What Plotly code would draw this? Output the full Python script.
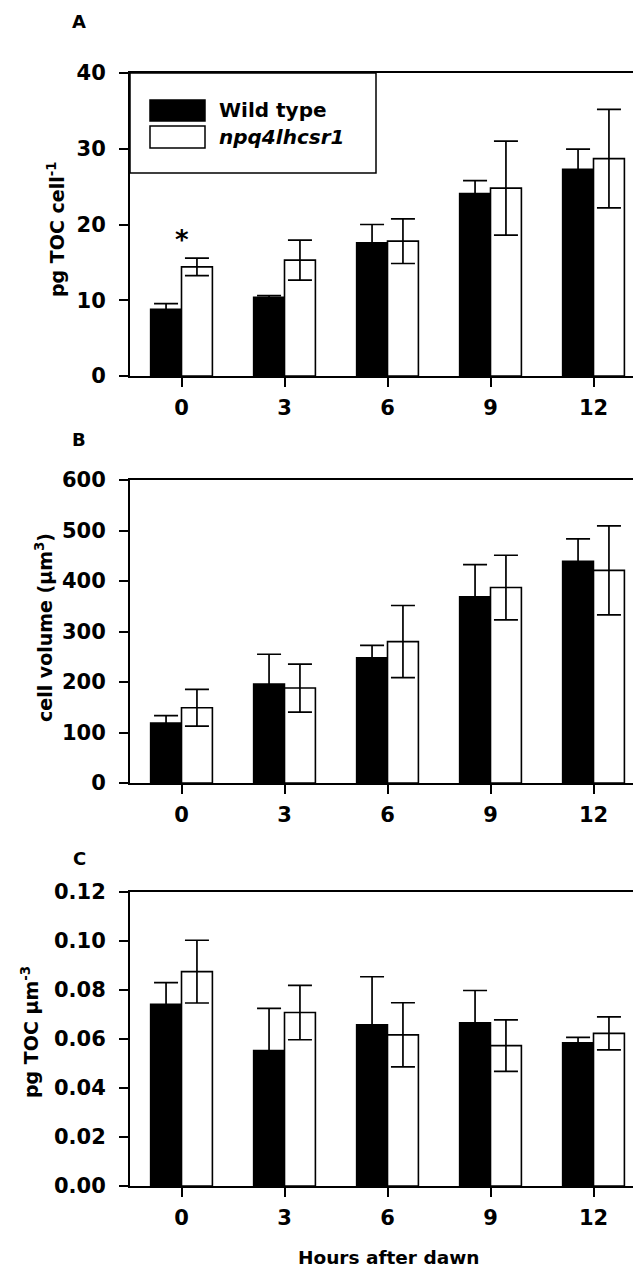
import plotly.graph_objects as go

hours = ["0", "3", "6", "9", "12"]

# Panel A: pg TOC cell^-1
toc_wt = [8.8, 10.4, 17.6, 24.1, 27.3]
toc_wt_err = [0.75, 0.2, 2.4, 1.7, 2.65]
toc_mut = [14.4, 15.3, 17.8, 24.8, 28.7]
toc_mut_err = [1.15, 2.65, 2.95, 6.2, 6.5]

# Panel B: cell volume (µm^3)
vol_wt = [119, 196, 248, 369, 439]
vol_wt_err = [14.5, 59, 24.5, 63.5, 44.5]
vol_mut = [149, 188, 280, 387, 421]
vol_mut_err = [36.5, 47.5, 71.5, 64, 88]

# Panel C: pg TOC µm^-3
den_wt = [0.0742, 0.0553, 0.0658, 0.0666, 0.0585]
den_wt_err = [0.0088, 0.0172, 0.0196, 0.0132, 0.0022]
den_mut = [0.0875, 0.0708, 0.0617, 0.0573, 0.0623]
den_mut_err = [0.0128, 0.0111, 0.0131, 0.0105, 0.0067]

series_names = ["Wild type", "npq4lhcsr1"]

W, H = 641, 1267
FONT = "DejaVu Sans"

def py(px):
    return 1 - px / H

def px_x(px):
    return px / W

fig = go.Figure()

panels = [
    (toc_wt, toc_wt_err, toc_mut, toc_mut_err, "x", "y"),
    (vol_wt, vol_wt_err, vol_mut, vol_mut_err, "x2", "y2"),
    (den_wt, den_wt_err, den_mut, den_mut_err, "x3", "y3"),
]

for wt, wte, mu, mue, xa, ya in panels:
    fig.add_trace(go.Bar(
        x=hours, y=wt, name=series_names[0], xaxis=xa, yaxis=ya,
        marker=dict(color="black", line=dict(color="black", width=1.5)),
        error_y=dict(type="data", array=wte, visible=True, color="black",
                     thickness=1.7, width=12),
        showlegend=False,
    ))
    fig.add_trace(go.Bar(
        x=hours, y=mu, name=series_names[1], xaxis=xa, yaxis=ya,
        marker=dict(color="white", line=dict(color="black", width=1.6)),
        error_y=dict(type="data", array=mue, visible=True, color="black",
                     thickness=1.7, width=12),
        showlegend=False,
    ))

xdom = [px_x(122), px_x(637)]
doms = [(65, 368), (472, 775), (884, 1178)]

axis_common = dict(
    showline=True, linewidth=2, linecolor="black", mirror=True,
    ticks="outside", ticklen=9, tickwidth=2, tickcolor="black",
    showgrid=False, zeroline=False,
    tickfont=dict(family=FONT, size=21, color="black", weight="bold"),
)

yranges = [[0, 40], [0, 600], [0, 0.12]]
ydticks = [10, 100, 0.02]
yfmt = ["d", "d", ".2f"]

layout = dict(
    width=W, height=H,
    margin=dict(l=0, r=0, t=0, b=0),
    paper_bgcolor="white", plot_bgcolor="white",
    barmode="group", bargap=0.4, bargroupgap=0.0,
    showlegend=False,
)
for i in range(3):
    sx = "" if i == 0 else str(i + 1)
    top, bot = doms[i]
    layout["xaxis" + sx] = dict(
        axis_common, domain=xdom, anchor="y" + sx, type="category",
        range=[-0.5, 4.5], ticklabelstandoff=3, automargin=False,
    )
    layout["yaxis" + sx] = dict(
        axis_common, domain=[py(bot), py(top)], anchor="x" + sx,
        range=yranges[i], dtick=ydticks[i], tick0=0, tickformat=yfmt[i],
        ticklabelstandoff=9, automargin=False,
    )
fig.update_layout(**layout)

bold = dict(family=FONT, color="black", weight="bold")
ann = []
# panel letters
for letter, ypix in [("A", 14), ("B", 432), ("C", 850)]:
    ann.append(dict(text=letter, x=px_x(71), y=py(ypix), xref="paper", yref="paper",
                    showarrow=False, xanchor="center", yanchor="middle",
                    font=dict(bold, size=18)))
# y axis titles
ytitles = [("pg TOC cell<sup>-1</sup>", 48, 222),
           ("cell volume (µm<sup>3</sup>)", 36, 620),
           ("pg TOC µm<sup>-3</sup>", 22, 1024)]
for t, xp, ypix in ytitles:
    ann.append(dict(text=t, x=px_x(xp), y=py(ypix), xref="paper", yref="paper",
                    showarrow=False, textangle=-90, xanchor="center", yanchor="middle",
                    font=dict(bold, size=19)))
# x axis title
ann.append(dict(text="Hours after dawn", x=px_x(380), y=py(1249), xref="paper", yref="paper",
                showarrow=False, xanchor="center", yanchor="middle",
                font=dict(bold, size=18.5)))
# significance asterisk
ann.append(dict(text="*", x=hours[0], y=18.0, xref="x", yref="y", showarrow=False,
                xanchor="center", yanchor="middle", font=dict(bold, size=26)))

# custom legend (box + swatches + labels), in panel A domain coordinates
shapes = []
def dx(px):
    return (px - 122) / (637 - 122)
def dy(px):
    return (368 - px) / (368 - 65)

shapes.append(dict(type="rect", xref="x domain", yref="y domain",
                   x0=dx(122), x1=dx(368), y0=dy(165), y1=dy(65),
                   line=dict(color="black", width=1.5), fillcolor="white", layer="above"))
shapes.append(dict(type="rect", xref="x domain", yref="y domain",
                   x0=dx(142), x1=dx(197), y0=dy(113), y1=dy(92),
                   line=dict(color="black", width=1.5), fillcolor="black", layer="above"))
shapes.append(dict(type="rect", xref="x domain", yref="y domain",
                   x0=dx(142), x1=dx(197), y0=dy(140), y1=dy(118),
                   line=dict(color="black", width=1.5), fillcolor="white", layer="above"))
ann.append(dict(text=series_names[0], x=dx(209), y=dy(102), xref="x domain", yref="y domain",
                showarrow=False, xanchor="left", yanchor="middle", font=dict(bold, size=20)))
ann.append(dict(text="<i>" + series_names[1] + "</i>", x=dx(209), y=dy(129),
                xref="x domain", yref="y domain",
                showarrow=False, xanchor="left", yanchor="middle", font=dict(bold, size=20)))

fig.update_layout(annotations=ann, shapes=shapes)
fig.write_html("out.html")
